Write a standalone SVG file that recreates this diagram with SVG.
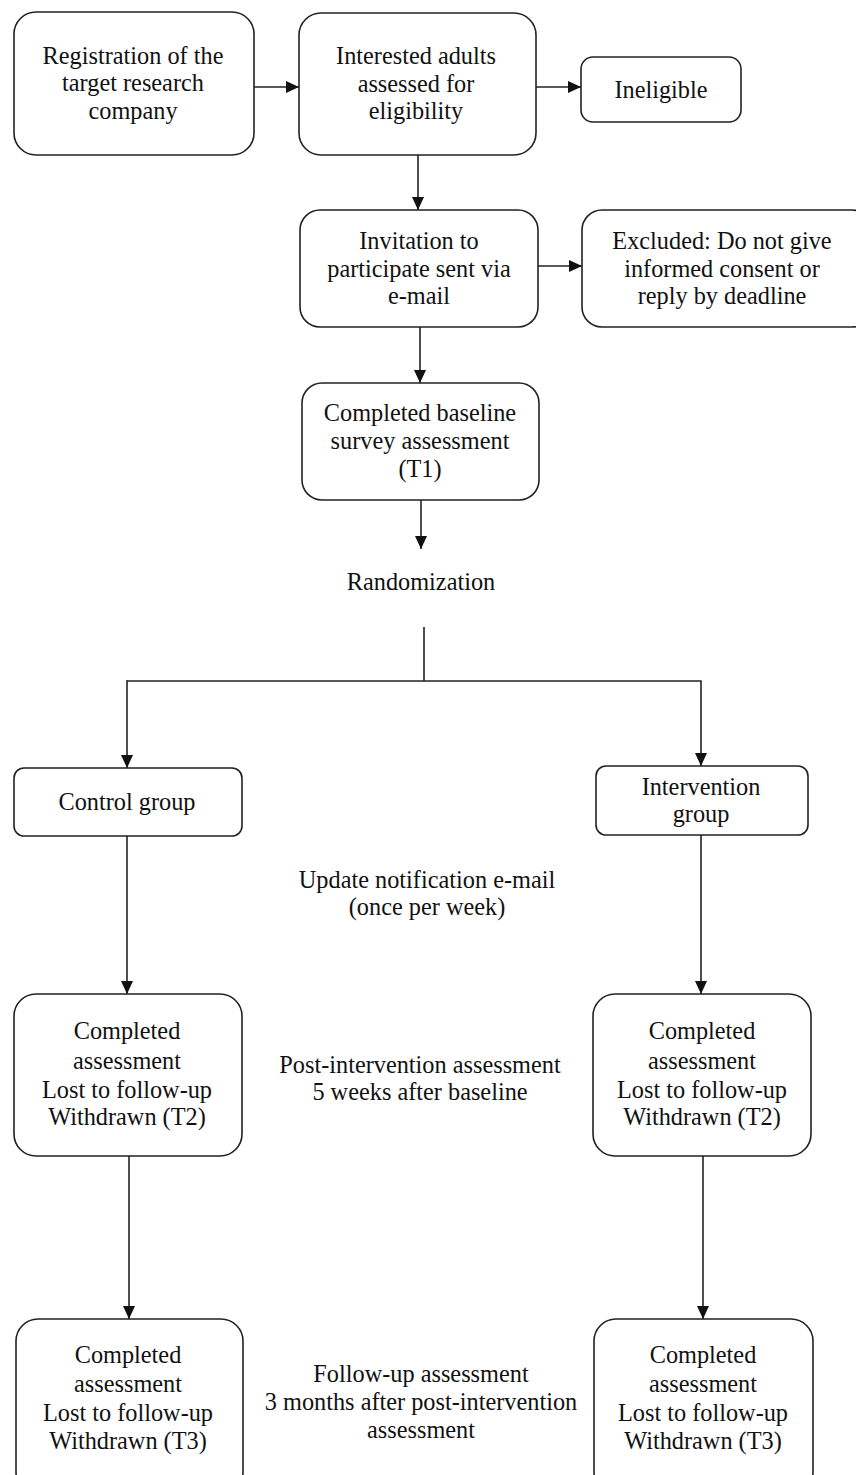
<svg xmlns="http://www.w3.org/2000/svg" width="856" height="1475" viewBox="0 0 856 1475">
<style>
.box{fill:#fff;stroke:#222;stroke-width:1.6}
.t{font-family:'Liberation Serif','DejaVu Serif','Times New Roman',serif;font-size:24.3px;fill:#111;text-anchor:middle}
.c{fill:none;stroke:#222;stroke-width:1.6}
</style>
<defs>
<marker id="ah" markerWidth="13" markerHeight="12" refX="13" refY="6" orient="auto" markerUnits="userSpaceOnUse" viewBox="0 0 13 12">
<path d="M0,0 L13,6 L0,12 Z" fill="#111"/>
</marker>
</defs>
<rect width="856" height="1475" fill="#fff"/>
<g id="connectors">
<line class="c" x1="254" y1="87" x2="299" y2="87" marker-end="url(#ah)"/>
<line class="c" x1="536" y1="87" x2="581" y2="87" marker-end="url(#ah)"/>
<line class="c" x1="418" y1="155" x2="418" y2="210" marker-end="url(#ah)"/>
<line class="c" x1="538" y1="266" x2="582" y2="266" marker-end="url(#ah)"/>
<line class="c" x1="420" y1="327" x2="420" y2="383" marker-end="url(#ah)"/>
<line class="c" x1="421" y1="500" x2="421" y2="549" marker-end="url(#ah)"/>
<polyline class="c" points="424,627 424,681"/>
<polyline class="c" points="127,681 701,681 701,766" marker-end="url(#ah)"/>
<line class="c" x1="127" y1="680.2" x2="127" y2="768" marker-end="url(#ah)"/>
<line class="c" x1="127" y1="836" x2="127" y2="994" marker-end="url(#ah)"/>
<line class="c" x1="701" y1="835" x2="701" y2="994" marker-end="url(#ah)"/>
<line class="c" x1="129" y1="1156" x2="129" y2="1319" marker-end="url(#ah)"/>
<line class="c" x1="703" y1="1156" x2="703" y2="1319" marker-end="url(#ah)"/>
</g>
<g id="n-registration">
<rect class="box" x="14" y="12" width="240" height="143" rx="22"/>
<text class="t" x="133" y="64">Registration of the</text>
<text class="t" x="133" y="91">target research</text>
<text class="t" x="133" y="119">company</text>
</g>
<g id="n-assessed">
<rect class="box" x="299" y="13" width="237" height="142" rx="22"/>
<text class="t" x="416" y="64">Interested adults</text>
<text class="t" x="416" y="92">assessed for</text>
<text class="t" x="416" y="119">eligibility</text>
</g>
<g id="n-ineligible">
<rect class="box" x="581" y="57" width="160" height="65" rx="12"/>
<text class="t" x="661" y="98">Ineligible</text>
</g>
<g id="n-invitation">
<rect class="box" x="300" y="210" width="238" height="117" rx="20"/>
<text class="t" x="419" y="249">Invitation to</text>
<text class="t" x="419" y="277">participate sent via</text>
<text class="t" x="419" y="304">e-mail</text>
</g>
<g id="n-excluded">
<rect class="box" x="582" y="210" width="290" height="117" rx="20"/>
<text class="t" x="722" y="249">Excluded: Do not give</text>
<text class="t" x="722" y="277">informed consent or</text>
<text class="t" x="722" y="304">reply by deadline</text>
</g>
<g id="n-baseline">
<rect class="box" x="302" y="383" width="237" height="117" rx="20"/>
<text class="t" x="420" y="421">Completed baseline</text>
<text class="t" x="420" y="449">survey assessment</text>
<text class="t" x="420" y="477">(T1)</text>
</g>
<g id="n-randomization">
<text class="t" x="421" y="590">Randomization</text>
</g>
<g id="n-control">
<rect class="box" x="14" y="768" width="228" height="68" rx="10"/>
<text class="t" x="127" y="810">Control group</text>
</g>
<g id="n-intervention">
<rect class="box" x="596" y="766" width="212" height="69" rx="10"/>
<text class="t" x="701" y="795">Intervention</text>
<text class="t" x="701" y="822">group</text>
</g>
<g id="n-update">
<text class="t" x="427" y="888">Update notification e-mail</text>
<text class="t" x="427" y="915">(once per week)</text>
</g>
<g id="n-t2-control">
<rect class="box" x="14" y="994" width="228" height="162" rx="22"/>
<text class="t" x="127" y="1039">Completed</text>
<text class="t" x="127" y="1069">assessment</text>
<text class="t" x="127" y="1098">Lost to follow-up</text>
<text class="t" x="127" y="1125">Withdrawn (T2)</text>
</g>
<g id="n-post">
<text class="t" x="420" y="1073">Post-intervention assessment</text>
<text class="t" x="420" y="1100">5 weeks after baseline</text>
</g>
<g id="n-t2-intervention">
<rect class="box" x="593" y="994" width="218" height="162" rx="22"/>
<text class="t" x="702" y="1039">Completed</text>
<text class="t" x="702" y="1069">assessment</text>
<text class="t" x="702" y="1098">Lost to follow-up</text>
<text class="t" x="702" y="1125">Withdrawn (T2)</text>
</g>
<g id="n-t3-control">
<rect class="box" x="16" y="1319" width="227" height="175" rx="22"/>
<text class="t" x="128" y="1363">Completed</text>
<text class="t" x="128" y="1392">assessment</text>
<text class="t" x="128" y="1421">Lost to follow-up</text>
<text class="t" x="128" y="1449">Withdrawn (T3)</text>
</g>
<g id="n-followup">
<text class="t" x="421" y="1382">Follow-up assessment</text>
<text class="t" x="421" y="1410">3 months after post-intervention</text>
<text class="t" x="421" y="1438">assessment</text>
</g>
<g id="n-t3-intervention">
<rect class="box" x="594" y="1319" width="219" height="175" rx="22"/>
<text class="t" x="703" y="1363">Completed</text>
<text class="t" x="703" y="1392">assessment</text>
<text class="t" x="703" y="1421">Lost to follow-up</text>
<text class="t" x="703" y="1449">Withdrawn (T3)</text>
</g>
</svg>
